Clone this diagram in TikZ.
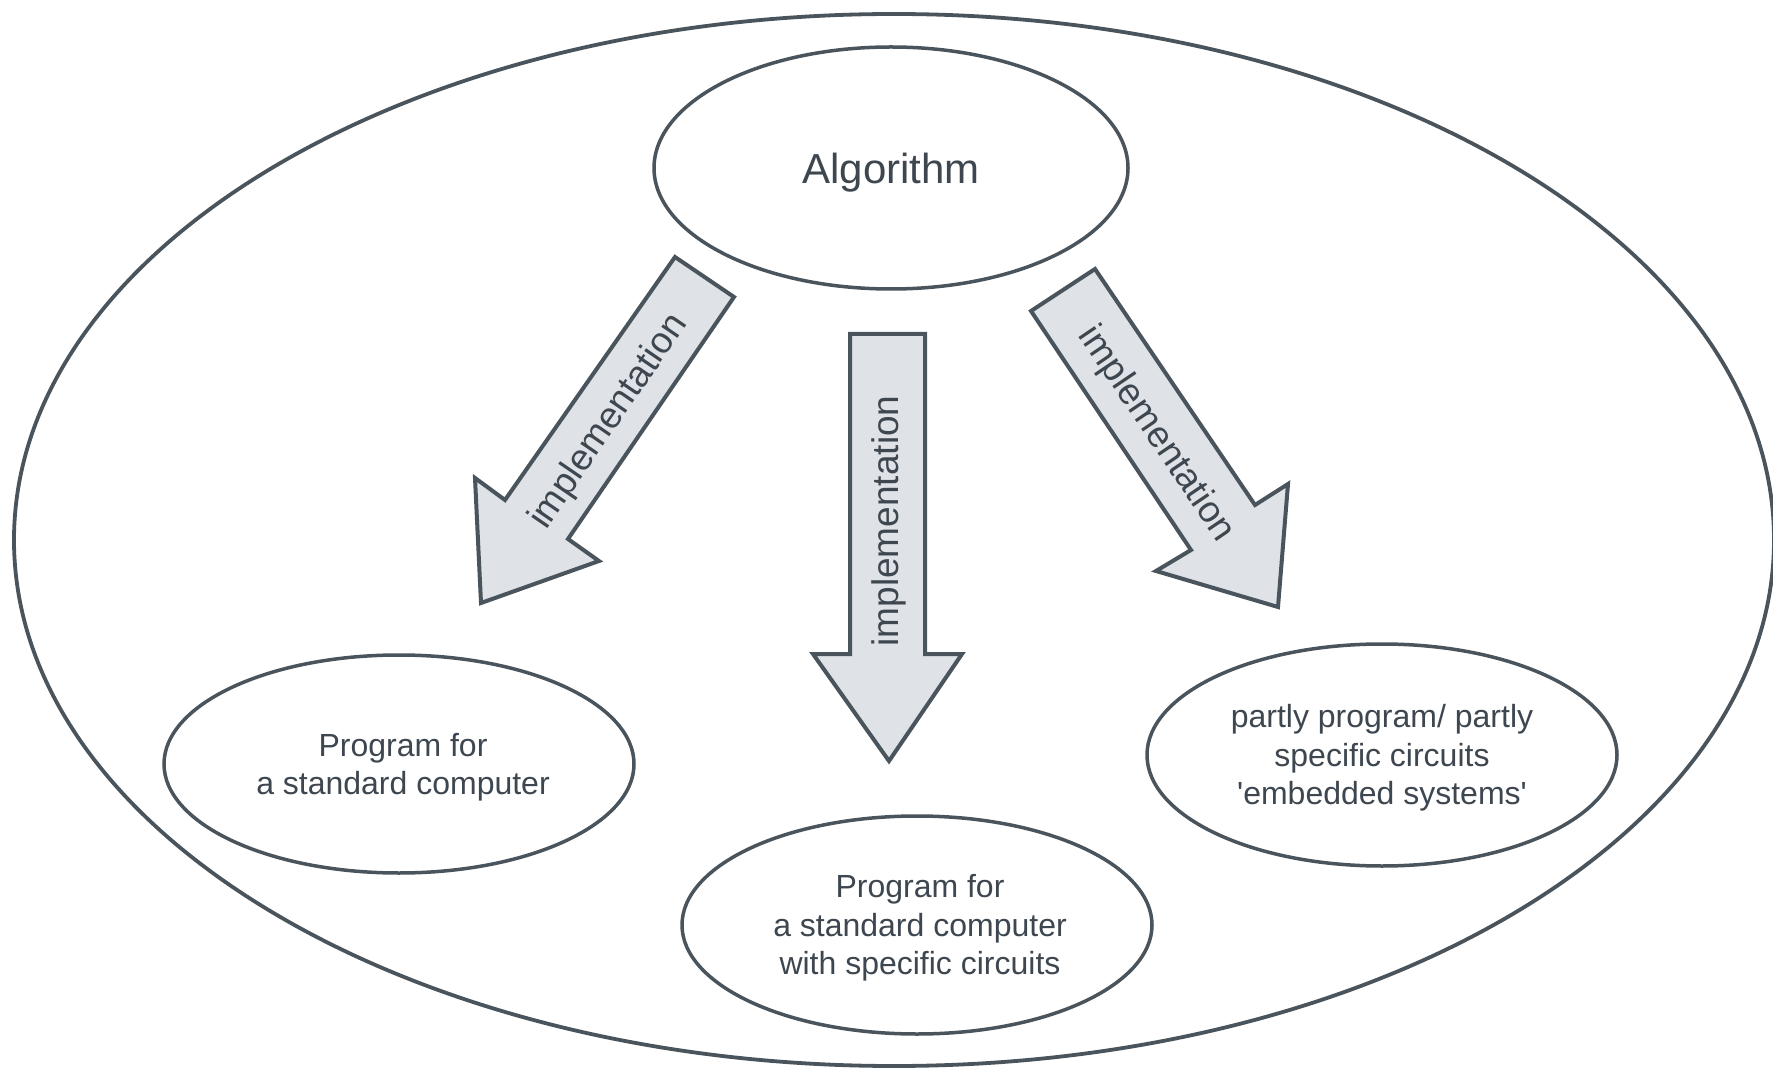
\documentclass[tikz,border=0pt]{standalone}
\usepackage{fontspec}
\setmainfont{Liberation Sans}
\usetikzlibrary{shapes.geometric}
\definecolor{ln}{HTML}{4A545C}
\definecolor{tx}{HTML}{3E4750}
\definecolor{af}{HTML}{DFE2E6}
\begin{document}
\begin{tikzpicture}[x=0.5pt,y=-0.5pt,
  ell/.style={draw=ln,line width=1.75pt,fill=white},
  blk/.style={draw=ln,line width=2pt,fill=af,line join=miter},
  ltxt/.style={text=tx,font=\fontsize{16}{19.25}\selectfont,align=center},
  itxt/.style={text=tx,font=\fontsize{18.5}{22}\selectfont,inner sep=0pt}]
\useasboundingbox (0,0) rectangle (1773,1069);
% outer ellipse
\draw[draw=ln,line width=1.9pt] (894,540) ellipse [x radius=880, y radius=526];
% algorithm
\draw[ell] (891,168) ellipse [x radius=237, y radius=121];
\node[text=tx,font=\fontsize{21}{25}\selectfont] (alg) at (891,173) {Algorithm};
% result ellipses
\draw[ell] (399,764) ellipse [x radius=235, y radius=109];
\node[ltxt] (left) at (403,767) {Program for\\a standard computer};
\draw[ell] (917,925) ellipse [x radius=235, y radius=109];
\node[ltxt] (bottom) at (920,928) {Program for\\a standard computer\\with specific circuits};
\draw[ell] (1382,755) ellipse [x radius=235, y radius=111];
\node[ltxt] (right) at (1382,758) {partly program/ partly\\specific circuits\\\textquotesingle embedded systems\textquotesingle};
% left arrow
\draw[blk] (675,257) -- (734,297) -- (568,539) -- (599,561) -- (481,603) -- (475,478) -- (505,500) -- cycle;
\node[itxt,rotate=55.6] (la) at (609,422) {implementation};
% middle arrow
\draw[blk] (850,334) -- (925,334) -- (925,654) -- (962,654) -- (889,761) -- (813,654) -- (850,654) -- cycle;
\node[itxt,rotate=90] (ma) at (889,521) {implementation};
% right arrow
\draw[blk] (1031,311) -- (1095,269) -- (1255,505) -- (1288,484) -- (1278,607) -- (1156,571) -- (1191,550) -- cycle;
\node[itxt,rotate=-55.9] (ra) at (1156,434) {implementation};
\end{tikzpicture}
\end{document}
